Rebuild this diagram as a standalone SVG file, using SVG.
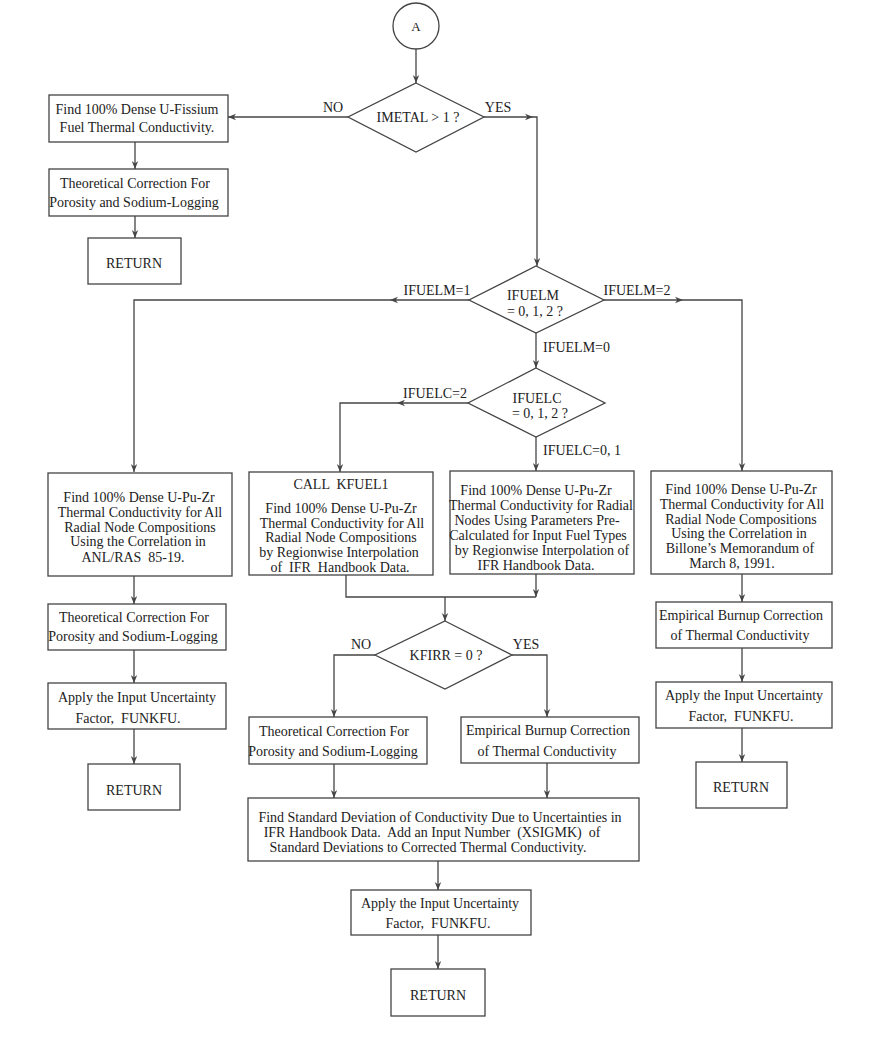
<svg xmlns="http://www.w3.org/2000/svg" width="885" height="1037" viewBox="0 0 885 1037">
<defs>
<marker id="ah" viewBox="0 0 10 10" refX="10" refY="5" markerWidth="8" markerHeight="8" markerUnits="userSpaceOnUse" orient="auto">
<path d="M0,1 L10,5 L0,9 L3,5 Z" fill="#444"/>
</marker>
<style>
.b{fill:#fff;stroke:#444;stroke-width:1.3}
.c{fill:none;stroke:#444;stroke-width:1.3}
.t{font-family:"Liberation Serif","Times New Roman",serif;font-size:14px;fill:#222;text-anchor:middle;white-space:pre}
.l{font-family:"Liberation Serif","Times New Roman",serif;font-size:14px;fill:#222;white-space:pre}
</style>
</defs>
<rect width="885" height="1037" fill="#fff"/>

<g id="connectors">
<path class="c" d="M416,49 V83" marker-end="url(#ah)"/>
<path class="c" d="M348,117 H228" marker-end="url(#ah)"/>
<path class="c" d="M484,117 H533" marker-end="url(#ah)"/>
<path class="c" d="M533,117 H537 V266" marker-end="url(#ah)"/>
<path class="c" d="M135,142 V169" marker-end="url(#ah)"/>
<path class="c" d="M135,216 V238" marker-end="url(#ah)"/>
<path class="c" d="M469,300 H390" marker-end="url(#ah)"/>
<path class="c" d="M390,300 H134 V472" marker-end="url(#ah)"/>
<path class="c" d="M604,300 H683" marker-end="url(#ah)"/>
<path class="c" d="M683,300 H742 V471" marker-end="url(#ah)"/>
<path class="c" d="M536,333 V368" marker-end="url(#ah)"/>
<path class="c" d="M468,403 H397" marker-end="url(#ah)"/>
<path class="c" d="M397,403 H340 V472" marker-end="url(#ah)"/>
<path class="c" d="M536,437 V471" marker-end="url(#ah)"/>
<path class="c" d="M134,576 V604" marker-end="url(#ah)"/>
<path class="c" d="M134,650 V683" marker-end="url(#ah)"/>
<path class="c" d="M134,729 V764" marker-end="url(#ah)"/>
<path class="c" d="M346,575 V597 H536"/>
<path class="c" d="M536,574 V597" marker-end="url(#ah)"/>
<path class="c" d="M445,597 V621" marker-end="url(#ah)"/>
<path class="c" d="M375,655 H334 V717" marker-end="url(#ah)"/>
<path class="c" d="M512,655 H547 V717" marker-end="url(#ah)"/>
<path class="c" d="M334,764 V798" marker-end="url(#ah)"/>
<path class="c" d="M547,763 V798" marker-end="url(#ah)"/>
<path class="c" d="M438,861 V890" marker-end="url(#ah)"/>
<path class="c" d="M438,935 V969" marker-end="url(#ah)"/>
<path class="c" d="M742,574 V602" marker-end="url(#ah)"/>
<path class="c" d="M742,648 V682" marker-end="url(#ah)"/>
<path class="c" d="M742,728 V762" marker-end="url(#ah)"/>
<text class="t" x="333" y="112">NO</text>
<text class="t" x="498" y="112">YES</text>
<text class="t" x="437" y="295">IFUELM=1</text>
<text class="t" x="637" y="295">IFUELM=2</text>
<text class="l" x="543" y="352">IFUELM=0</text>
<text class="t" x="435" y="398">IFUELC=2</text>
<text class="l" x="543" y="455">IFUELC=0, 1</text>
<text class="t" x="361" y="649">NO</text>
<text class="t" x="526" y="649">YES</text>
</g>

<g id="start">
<circle class="b" cx="416" cy="26" r="23"/>
<text class="t" x="416" y="31" style="font-size:13px">A</text>
</g>

<g id="imetal">
<polygon class="b" points="416,83 484,117 416,152 348,117"/>
<text class="t" x="418" y="122">IMETAL &gt; 1 ?</text>
</g>

<g id="fissium">
<rect class="b" x="49" y="95" width="179" height="47"/>
<text class="t" x="137" y="114">Find 100% Dense U-Fissium</text>
<text class="t" x="137" y="132">Fuel Thermal Conductivity.</text>
</g>

<g id="theo1">
<rect class="b" x="49" y="169" width="179" height="47"/>
<text class="t" x="135" y="188">Theoretical Correction For</text>
<text class="t" x="134" y="207">Porosity and Sodium-Logging</text>
</g>

<g id="return1">
<rect class="b" x="88" y="238" width="93" height="46"/>
<text class="t" x="134" y="268">RETURN</text>
</g>

<g id="ifuelm">
<polygon class="b" points="536,266 604,300 536,333 469,300"/>
<text class="t" x="533" y="300">IFUELM</text>
<text class="t" x="535" y="316">= 0, 1, 2 ?</text>
</g>

<g id="ifuelc">
<polygon class="b" points="536,368 605,403 536,437 468,403"/>
<text class="t" x="537" y="403">IFUELC</text>
<text class="t" x="540" y="418">= 0, 1, 2 ?</text>
</g>

<g id="anl">
<rect class="b" x="48" y="473" width="184" height="103"/>
<text class="t" x="139" y="502">Find 100% Dense U-Pu-Zr</text>
<text class="t" x="140" y="517">Thermal Conductivity for All</text>
<text class="t" x="140" y="532">Radial Node Compositions</text>
<text class="t" x="138" y="546">Using the Correlation in</text>
<text class="t" x="133" y="562">ANL/RAS  85-19.</text>
</g>

<g id="theo2">
<rect class="b" x="48" y="604" width="178" height="46"/>
<text class="t" x="134" y="622">Theoretical Correction For</text>
<text class="t" x="133" y="641">Porosity and Sodium-Logging</text>
</g>

<g id="apply1">
<rect class="b" x="48" y="683" width="178" height="46"/>
<text class="t" x="137" y="702">Apply the Input Uncertainty</text>
<text class="t" x="128" y="723">Factor,  FUNKFU.</text>
</g>

<g id="return2">
<rect class="b" x="88" y="764" width="92" height="46"/>
<text class="t" x="134" y="795">RETURN</text>
</g>

<g id="kfuel1">
<rect class="b" x="249" y="472" width="184" height="103"/>
<text class="t" x="341" y="489">CALL  KFUEL1</text>
<text class="t" x="341" y="513">Find 100% Dense U-Pu-Zr</text>
<text class="t" x="342" y="528">Thermal Conductivity for All</text>
<text class="t" x="341" y="542">Radial Node Compositions</text>
<text class="t" x="339" y="557">by Regionwise Interpolation</text>
<text class="t" x="340" y="572">of  IFR  Handbook Data.</text>
</g>

<g id="radial">
<rect class="b" x="450" y="471" width="184" height="103"/>
<text class="t" x="536" y="495">Find 100% Dense U-Pu-Zr</text>
<text class="t" x="541" y="510">Thermal Conductivity for Radial</text>
<text class="t" x="537" y="525">Nodes Using Parameters Pre-</text>
<text class="t" x="538" y="540">Calculated for Input Fuel Types</text>
<text class="t" x="542" y="555">by Regionwise Interpolation of</text>
<text class="t" x="536" y="570">IFR Handbook Data.</text>
</g>

<g id="billone">
<rect class="b" x="651" y="471" width="181" height="103"/>
<text class="t" x="741" y="494">Find 100% Dense U-Pu-Zr</text>
<text class="t" x="742" y="509">Thermal Conductivity for All</text>
<text class="t" x="741" y="524">Radial Node Compositions</text>
<text class="t" x="739" y="538">Using the Correlation in</text>
<text class="t" x="740" y="553">Billone’s Memorandum of</text>
<text class="t" x="732" y="568">March 8, 1991.</text>
</g>

<g id="empirical1">
<rect class="b" x="656" y="602" width="176" height="46"/>
<text class="t" x="741" y="620">Empirical Burnup Correction</text>
<text class="t" x="740" y="640">of Thermal Conductivity</text>
</g>

<g id="apply2">
<rect class="b" x="656" y="682" width="176" height="46"/>
<text class="t" x="744" y="700">Apply the Input Uncertainty</text>
<text class="t" x="741" y="721">Factor,  FUNKFU.</text>
</g>

<g id="return3">
<rect class="b" x="696" y="762" width="91" height="46"/>
<text class="t" x="741" y="792">RETURN</text>
</g>

<g id="kfirr">
<polygon class="b" points="445,621 512,655 445,689 375,655"/>
<text class="t" x="446" y="660">KFIRR = 0 ?</text>
</g>

<g id="theo3">
<rect class="b" x="249" y="717" width="178" height="47"/>
<text class="t" x="334" y="736">Theoretical Correction For</text>
<text class="t" x="333" y="756">Porosity and Sodium-Logging</text>
</g>

<g id="empirical2">
<rect class="b" x="461" y="717" width="178" height="46"/>
<text class="t" x="548" y="735">Empirical Burnup Correction</text>
<text class="t" x="547" y="756">of Thermal Conductivity</text>
</g>

<g id="stddev">
<rect class="b" x="248" y="798" width="391" height="63"/>
<text class="t" x="440" y="822">Find Standard Deviation of Conductivity Due to Uncertainties in</text>
<text class="t" x="432" y="837">IFR Handbook Data.  Add an Input Number  (XSIGMK)  of</text>
<text class="t" x="428" y="852">Standard Deviations to Corrected Thermal Conductivity.</text>
</g>

<g id="apply3">
<rect class="b" x="351" y="890" width="180" height="45"/>
<text class="t" x="440" y="908">Apply the Input Uncertainty</text>
<text class="t" x="438" y="928">Factor,  FUNKFU.</text>
</g>

<g id="return4">
<rect class="b" x="391" y="969" width="94" height="47"/>
<text class="t" x="438" y="1000">RETURN</text>
</g>
</svg>
